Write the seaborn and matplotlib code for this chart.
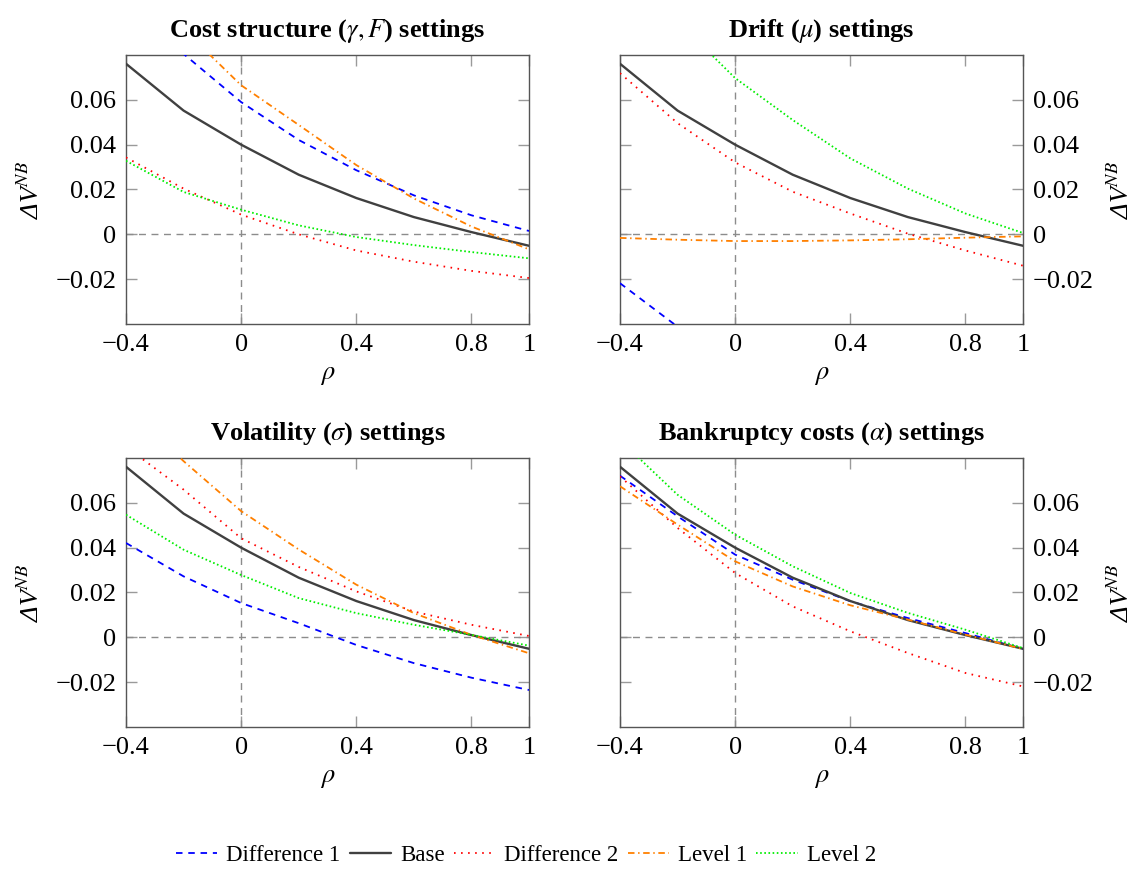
import matplotlib
matplotlib.use("Agg")
import matplotlib.pyplot as plt
import seaborn as sns
import pandas as pd
from matplotlib.lines import Line2D

# ---------------- data ----------------
rho = [-0.4, -0.2, 0.0, 0.2, 0.4, 0.6, 0.8, 1.0]
series_names = ["Difference 1", "Base", "Difference 2", "Level 1", "Level 2"]
panel_titles = [r"Cost structure ($\gamma, F$) settings",
                r"Drift ($\mu$) settings",
                r"Volatility ($\sigma$) settings",
                r"Bankruptcy costs ($\alpha$) settings"]
x_ticks = [-0.4, 0.0, 0.4, 0.8, 1.0]
x_tick_labels = ["\u22120.4", "0", "0.4", "0.8", "1"]
y_ticks = [-0.02, 0.0, 0.02, 0.04, 0.06]
y_tick_labels = ["\u22120.02", "0", "0.02", "0.04", "0.06"]

base = [0.0761, 0.0552, 0.0400, 0.0266, 0.0162, 0.0077, 0.0010, -0.0051]

cost_diff1 = [0.107, 0.0805, 0.0590, 0.0421, 0.0286, 0.0174, 0.0085, 0.0015]
cost_diff2 = [0.0343, 0.0204, 0.0088, 0.0000, -0.0072, -0.0122, -0.0163, -0.0195]
cost_level1 = [0.120, 0.0915, 0.0665, 0.0488, 0.0309, 0.0160, 0.0035, -0.0067]
cost_level2 = [0.0328, 0.0189, 0.0110, 0.0040, -0.0012, -0.0048, -0.0079, -0.0107]

drift_diff1 = [-0.0218, -0.0412, -0.0580, -0.0720, -0.0830, -0.0920, -0.0990, -0.1050]
drift_diff2 = [0.0719, 0.0496, 0.0321, 0.0190, 0.0093, 0.0003, -0.0072, -0.0140]
drift_level1 = [-0.0016, -0.0024, -0.0030, -0.0030, -0.0027, -0.0022, -0.0015, -0.0009]
drift_level2 = [0.125, 0.0950, 0.0697, 0.0510, 0.0339, 0.0204, 0.0093, 0.0006]

vol_diff1 = [0.0421, 0.0272, 0.0153, 0.0063, -0.0034, -0.0115, -0.0180, -0.0235]
vol_diff2 = [0.0850, 0.0659, 0.0442, 0.0314, 0.0205, 0.0115, 0.0056, 0.0006]
vol_level1 = [0.1030, 0.0786, 0.0563, 0.0392, 0.0235, 0.0108, 0.0011, -0.0071]
vol_level2 = [0.0547, 0.0391, 0.0278, 0.0175, 0.0108, 0.0056, 0.0011, -0.0037]

bank_diff1 = [0.0721, 0.0540, 0.0369, 0.0257, 0.0161, 0.0086, 0.0019, -0.0052]
bank_diff2 = [0.0718, 0.0488, 0.0287, 0.0138, 0.0027, -0.0070, -0.0159, -0.0219]
bank_level1 = [0.0674, 0.0503, 0.0339, 0.0227, 0.0143, 0.0079, 0.0012, -0.0052]
bank_level2 = [0.0880, 0.0636, 0.0458, 0.0317, 0.0198, 0.0109, 0.0034, -0.0048]

panels = [
    [cost_diff1, base, cost_diff2, cost_level1, cost_level2],
    [drift_diff1, base, drift_diff2, drift_level1, drift_level2],
    [vol_diff1, base, vol_diff2, vol_level1, vol_level2],
    [bank_diff1, base, bank_diff2, bank_level1, bank_level2],
]

# ---------------- styles ----------------
palette = {"Difference 1": "#0000ff", "Base": "#404040", "Difference 2": "#ff0000",
           "Level 1": "#ff8000", "Level 2": "#00ee00"}
dashes = {"Difference 1": (3.6, 3.2), "Base": "", "Difference 2": (0.9, 3.0),
          "Level 1": (3.6, 2.0, 0.8, 2.0), "Level 2": (0.9, 1.4)}
sizes = {"Difference 1": 1.3, "Base": 1.7, "Difference 2": 1.3, "Level 1": 1.3, "Level 2": 1.3}

sns.set_theme(style="white")
plt.rcParams["font.family"] = ["Liberation Serif", "DejaVu Serif"]
plt.rcParams["mathtext.fontset"] = "stix"
plt.rcParams["text.color"] = "black"
plt.rcParams["axes.labelcolor"] = "black"
plt.rcParams["xtick.labelcolor"] = "black"
plt.rcParams["ytick.labelcolor"] = "black"

fig, axes = plt.subplots(2, 2, figsize=(11.46, 8.71), dpi=100)
W, H = 1146.0, 871.0
positions = [(126, 55), (620, 55), (126, 458), (620, 458)]
aw, ah = 403, 269

for i, ax in enumerate(axes.flat):
    left, top = positions[i]
    ax.set_position([left / W, 1 - (top + ah) / H, aw / W, ah / H])
    rows = []
    for name, vals in zip(series_names, panels[i]):
        for r, v in zip(rho, vals):
            rows.append({"rho": r, "value": v, "series": name})
    df = pd.DataFrame(rows)
    ax.axhline(0, color="#8c8c8c", lw=1.0, dashes=(5, 4), zorder=1)
    ax.axvline(0, color="#8c8c8c", lw=1.0, dashes=(5, 4), zorder=1)
    sns.lineplot(data=df, x="rho", y="value", hue="series", style="series", size="series",
                 palette=palette, dashes=dashes, sizes=sizes, hue_order=series_names,
                 style_order=series_names, size_order=series_names,
                 sort=False, legend=False, ax=ax, zorder=3)
    ax.set_xlim(-0.4, 1.0)
    ax.set_ylim(-0.04, 0.08)
    ax.set_xticks(x_ticks)
    ax.set_xticklabels(x_tick_labels)
    ax.set_yticks(y_ticks)
    ax.set_yticklabels(y_tick_labels)
    ax.tick_params(direction="in", length=8, width=1.0, color="#9a9a9a",
                   labelsize=19, labelcolor="black", top=True, bottom=True,
                   left=True, right=True, pad=7)
    for s in ax.spines.values():
        s.set_color("#555555")
        s.set_linewidth(1.0)
        s.set_visible(True)
    ax.set_xlabel(r"$\rho$", fontsize=19, labelpad=7, color="black")
    ylab = "\u0394V$^{NB}$"
    if i % 2 == 1:
        ax.tick_params(labelleft=False, labelright=True)
        ax.yaxis.set_label_position("right")
        ax.set_ylabel(ylab, fontsize=19, fontstyle="italic", labelpad=10, rotation=90,
                      color="black")
    else:
        ax.set_ylabel(ylab, fontsize=19, fontstyle="italic", labelpad=8, color="black")
    ax.set_title(panel_titles[i], fontsize=19, fontweight="bold", pad=13, color="black")

handles = []
for n in series_names:
    h = Line2D([0], [0], color=palette[n], lw=sizes[n], linestyle="-")
    if dashes[n]:
        h.set_dashes(dashes[n])
    handles.append(h)
fig.legend(handles, series_names, loc="center", bbox_to_anchor=(526 / W, 1 - 855 / H),
           ncol=5, frameon=False, fontsize=16.5, handlelength=1.8, handletextpad=0.4,
           columnspacing=0.4, labelcolor="black")

fig.savefig("out.png", dpi=100)
